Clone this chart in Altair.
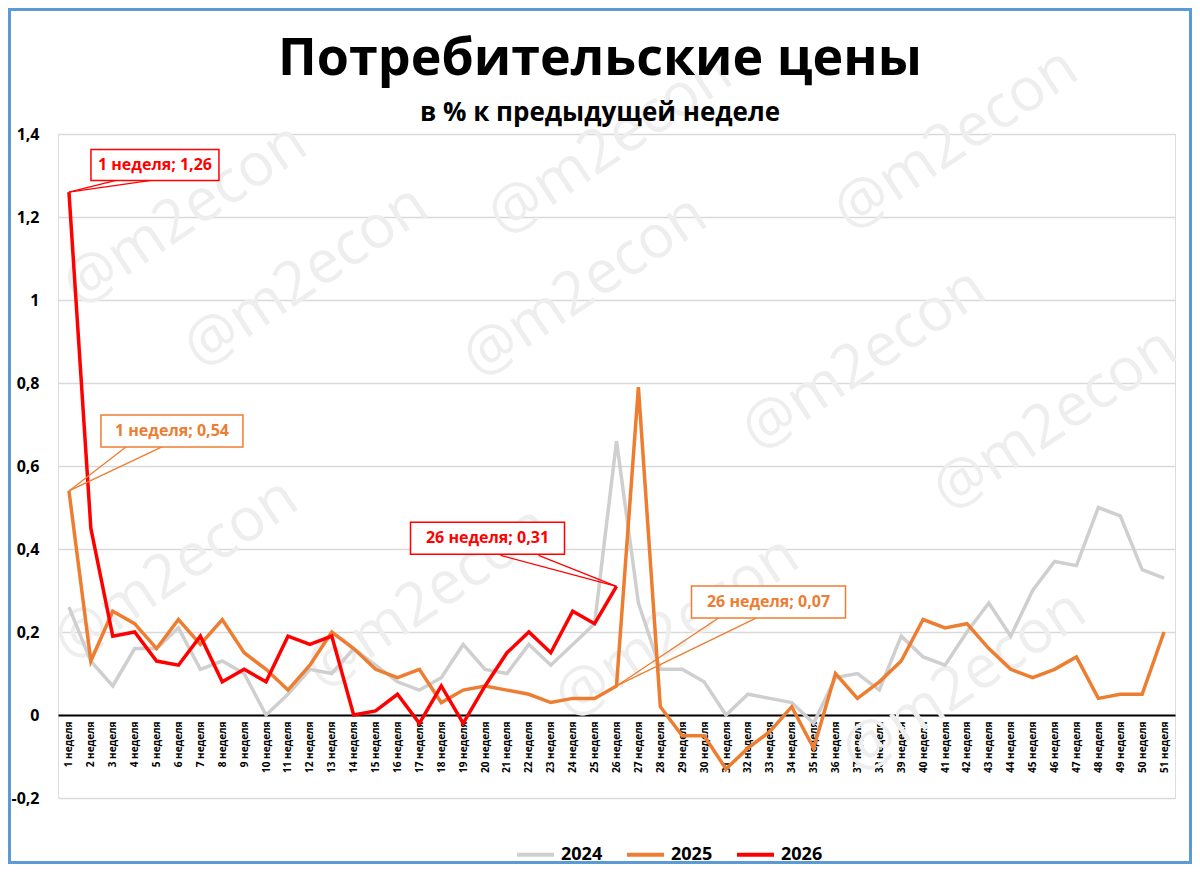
import altair as alt
import pandas as pd

# ---------------- data ----------------
weeks = list(range(1, 52))
y2024 = [0.26, 0.13, 0.07, 0.16, 0.16, 0.21, 0.11, 0.13, 0.10, 0.00,
         0.05, 0.11, 0.10, 0.16, 0.12, 0.08, 0.06, 0.09, 0.17, 0.11,
         0.10, 0.17, 0.12, 0.17, 0.22, 0.66, 0.27, 0.11, 0.11, 0.08,
         0.00, 0.05, 0.04, 0.03, -0.02, 0.09, 0.10, 0.06, 0.19, 0.14,
         0.12, 0.20, 0.27, 0.19, 0.30, 0.37, 0.36, 0.50, 0.48, 0.35,
         0.33]
y2025 = [0.54, 0.13, 0.25, 0.22, 0.16, 0.23, 0.17, 0.23, 0.15, 0.11,
         0.06, 0.12, 0.20, 0.16, 0.11, 0.09, 0.11, 0.03, 0.06, 0.07,
         0.06, 0.05, 0.03, 0.04, 0.04, 0.07, 0.79, 0.02, -0.05, -0.05,
         -0.13, -0.08, -0.04, 0.02, -0.08, 0.10, 0.04, 0.08, 0.13, 0.23,
         0.21, 0.22, 0.16, 0.11, 0.09, 0.11, 0.14, 0.04, 0.05, 0.05,
         0.20]
y2026 = [1.26, 0.45, 0.19, 0.20, 0.13, 0.12, 0.19, 0.08, 0.11, 0.08,
         0.19, 0.17, 0.19, 0.00, 0.01, 0.05, -0.02, 0.07, -0.02, 0.07,
         0.15, 0.20, 0.15, 0.25, 0.22, 0.31]
years = ["2024", "2025", "2026"]
colors = ["#CFCFCF", "#ED7D31", "#FF0000"]
y_ticks = [-0.2, 0.0, 0.2, 0.4, 0.6, 0.8, 1.0, 1.2, 1.4]
week_word = "неделя"
title_text = "Потребительские цены"
subtitle_text = "в % к предыдущей неделе"
watermark_text = "@m2econ"

rows = []
for yr, series in zip(years, [y2024, y2025, y2026]):
    for w, v in zip(weeks, series):
        rows.append({"year": yr, "week": w, "value": v})
df = pd.DataFrame(rows)

# ---------------- layout ----------------
W, H = 1117, 664
PAD = {"left": 50, "top": 126, "right": 17, "bottom": 66}
OX, OY = 8 + PAD["left"], 8 + PAD["top"]   # plot origin on the page
FONT = "Open Sans"

xscale = alt.Scale(domain=[0.5, 51.5], nice=False, zero=False)
yscale = alt.Scale(domain=[-0.2, 1.4], nice=False, zero=False)
xaxis = alt.Axis(
    values=weeks, title=None, labelAngle=270, labelFontSize=10,
    labelFontWeight="bold", labelColor="black", labelPadding=6,
    labelExpr="datum.value + ' " + week_word + "'", labelOverlap=False,
    labelFlush=False, ticks=False, grid=False, domainColor="black",
    domainWidth=2, offset=-H * 0.2 / 1.6)
yaxis = alt.Axis(
    values=y_ticks, title=None, labelFontSize=16, labelFontWeight="bold",
    labelColor="black", labelPadding=19, ticks=False, domain=False,
    grid=True, gridColor="#D9D9D9", gridWidth=1.3,
    labelExpr="replace(replace(format(datum.value, '.1~f'), '.', ','), '\u2212', '-')")
X = alt.X("week:Q", scale=xscale, axis=xaxis)
Y = alt.Y("value:Q", scale=yscale, axis=yaxis)

one = pd.DataFrame({"t": [watermark_text]})
layers = []

# watermarks (decoration, page positions of their centres)
wm_pos = [(610, 145), (956, 140), (185, 215), (306, 277), (585, 287),
          (864, 360), (1055, 420), (176, 570), (428, 598), (677, 628),
          (964, 682)]
for px, py in wm_pos:
    layers.append(
        alt.Chart(one).mark_text(
            angle=326, fontSize=60, color="#EEEEEE", font=FONT,
            align="center", baseline="middle"
        ).encode(x=alt.value(px - OX), y=alt.value(py - OY), text="t:N"))

# title and subtitle
layers.append(alt.Chart(one).mark_text(
    fontSize=52, fontWeight="bold", font=FONT, color="black",
    align="center", baseline="alphabetic").encode(
    x=alt.value(600 - OX), y=alt.value(75 - OY), text=alt.value(title_text)))
layers.append(alt.Chart(one).mark_text(
    fontSize=26, fontWeight="bold", font=FONT, color="black",
    align="center", baseline="alphabetic").encode(
    x=alt.value(600 - OX), y=alt.value(121 - OY), text=alt.value(subtitle_text)))

# lines
lines = alt.Chart(df).mark_line(strokeWidth=3.5).encode(
    x=X, y=Y,
    color=alt.Color("year:N", scale=alt.Scale(domain=years, range=colors),
                    legend=alt.Legend(
                        orient="none", legendX=457, legendY=700,
                        direction="horizontal", title=None,
                        symbolType="stroke", symbolStrokeWidth=4,
                        symbolSize=1369, labelFontSize=18,
                        labelFontWeight="bold", labelColor="black",
                        labelFont=FONT, columnPadding=16, labelOffset=5,
                        padding=0)))
layers.append(lines)


def fmt(v):
    return f"{v:.2f}".replace(".", ",")


def callout(week, value, color, dx, dy, w, h, b1, b2):
    src = pd.DataFrame({"week": [week], "value": [value],
                        "label": [f"{week} {week_word}; {fmt(value)}"]})
    base = alt.Chart(src)
    out = []
    for bx, by in (b1, b2):
        out.append(base.mark_rule(color=color, strokeWidth=1.3,
                                  x2Offset=bx, y2Offset=by).encode(
            x=X, y=Y, x2="week:Q", y2="value:Q"))
    out.append(base.mark_rect(fill="white", stroke=color, strokeWidth=1.5,
                              xOffset=dx - w / 2, x2Offset=dx + w / 2,
                              yOffset=dy - h / 2, y2Offset=dy + h / 2).encode(
        x=X, y=Y, x2="week:Q", y2="value:Q"))
    out.append(base.mark_text(color=color, fontSize=16, fontWeight="bold",
                              font=FONT, dx=dx, dy=dy, align="center",
                              baseline="middle").encode(
        x=X, y=Y, text="label:N"))
    return out


layers += callout(1, y2026[0], colors[2], 86, -27, 128, 31, (48, -12), (84, -12))
layers += callout(1, y2025[0], colors[1], 103, -60, 142, 32, (57, -44), (93, -44))
layers += callout(26, y2026[25], colors[2], -129, -48, 154, 32, (-116, -31), (-78, -31))
layers += callout(26, y2025[25], colors[1], 152, -84, 154, 32, (102, -68), (140, -68))

# outer frame (decoration)
frame = alt.Chart(one).mark_rect(
    fillOpacity=0, stroke="#5B9BD5", strokeWidth=3).encode(
    x=alt.value(-PAD["left"] + 1.5), x2=alt.value(W + PAD["right"] - 1.5),
    y=alt.value(-PAD["top"] + 1.5), y2=alt.value(H + PAD["bottom"] - 1.5))
layers.append(frame)

chart = alt.layer(*layers).properties(
    width=W, height=H, padding=PAD,
    autosize=alt.AutoSizeParams(type="none"),
).configure_view(stroke="transparent").configure(font=FONT)

chart.save("out.html", embed_options={"renderer": "svg", "actions": False})
